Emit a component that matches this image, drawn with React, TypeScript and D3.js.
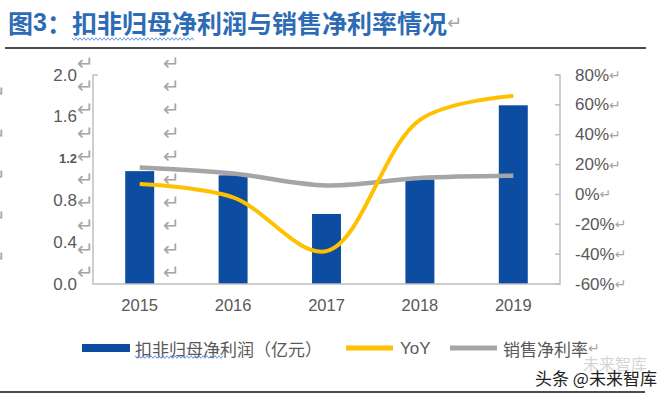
import React from 'react'
import * as d3 from 'd3'

const years = ['2015', '2016', '2017', '2018', '2019']
const profit = [1.08, 1.04, 0.67, 1.0, 1.71] // 扣非归母净利润（亿元）
const yoy = [7, -2, -38, 50, 66] // YoY %
const netMargin = [18, 14, 6, 11, 12.5] // 销售净利率 %
const leftTicks = [0, 0.4, 0.8, 1.2, 1.6, 2.0]
const rightTicks = [-60, -40, -20, 0, 20, 40, 60, 80]

const FONT = '"Liberation Sans", Arial, "Noto Sans CJK SC", sans-serif'
const CJK = '"Noto Sans CJK SC", "Liberation Sans", sans-serif'
const BLUE = '#0D4DA1'
const GOLD = '#FFC000'
const GREY = '#A5A5A5'
const AXIS = '#BFBFBF'
const LABEL = '#595959'
const MARK = '#A6A6A6'

const App = () => {
  const W = 668
  const H = 394
  const left = 93
  const right = 560
  const top = 75
  const bottom = 284

  const x = d3
    .scaleBand()
    .domain(years)
    .range([left, right])
    .paddingInner(0.69)
    .paddingOuter(0.345)
  const yL = d3.scaleLinear().domain([0, 2]).range([bottom, top])
  const yR = d3.scaleLinear().domain([-60, 80]).range([bottom, top])
  const cx = (i: number) => (x(years[i]) as number) + x.bandwidth() / 2

  const line = d3
    .line<number>()
    .x((_, i) => cx(i))
    .y((d) => yR(d))
    .curve(d3.curveCatmullRom.alpha(0.5))

  // spell-check squiggle
  const squiggle = (x0: number, x1: number, y: number) => {
    const pts = d3.range(x0, x1, 2).map((px, i) => [px, y + (i % 2 ? 1.3 : -1.3)] as [number, number])
    return d3.line()(pts) as string
  }

  // paragraph marks from the source document
  const markRows = d3.range(10).map((i) => 63 + i * 23.2)
  const farRows = [93, 135, 176, 217, 258]

  return (
    <svg width={W} height={H} style={{ position: 'absolute', left: 0, top: 0, background: '#fff' }}>
      <rect width={W} height={H} fill="#fff" />

      {/* title */}
      <text x={8} y={22} dominantBaseline="central" fontFamily={CJK} fontWeight="bold" fontSize={25} fill="#2E6BB5">
        图<tspan fontFamily={FONT}>3</tspan>：扣非归母净利润与销售净利率情况
        <tspan fill={MARK} fontWeight="normal" fontSize={18} fontFamily="DejaVu Sans">↵</tspan>
      </text>
      <path d={squiggle(72, 196, 39)} fill="none" stroke="#5B8DE0" strokeWidth={0.9} />
      <line x1={5} x2={646} y1={48} y2={48} stroke="#111" strokeWidth={1.5} />

      {/* paragraph marks */}
      {markRows.map((y, i) => (
        <g key={'m' + i} fontFamily="DejaVu Sans" fontSize={20} fill={MARK}>
          <text x={77} y={y} dominantBaseline="central">↵</text>
          <text x={163} y={y} dominantBaseline="central">↵</text>
        </g>
      ))}
      {farRows.map((y, i) => (
        <text key={'f' + i} x={-11} y={y} dominantBaseline="central" fontFamily="DejaVu Sans" fontSize={20} fill={MARK}>
          ↵
        </text>
      ))}

      {/* bars */}
      {profit.map((v, i) => (
        <rect key={years[i]} x={x(years[i])} y={yL(v)} width={x.bandwidth()} height={bottom - yL(v)} fill={BLUE} />
      ))}

      {/* axes */}
      <path d={`M${left + 5},${top}H${left}V${bottom}H${right}V${top}H${right - 5}`} fill="none" stroke={AXIS} strokeWidth={1.5} />
      {rightTicks.map((t) => (
        <line key={'rt' + t} x1={right - 5} x2={right} y1={yR(t)} y2={yR(t)} stroke={AXIS} strokeWidth={1.5} />
      ))}
      {leftTicks.map((t) => (
        <text
          key={'lt' + t}
          x={77}
          y={yL(t)}
          textAnchor="end"
          dominantBaseline="central"
          fontFamily={FONT}
          fontSize={t === 1.2 ? 13 : 17}
          fontWeight={t === 1.2 ? 'bold' : 'normal'}
          fill={LABEL}
        >
          {d3.format('.1f')(t)}
        </text>
      ))}
      {rightTicks.map((t) => (
        <text key={'rl' + t} x={575} y={yR(t)} dominantBaseline="central" fontFamily={FONT} fontSize={17} fill={LABEL}>
          {t}%
          <tspan fontFamily="DejaVu Sans" fontSize={14} fill={MARK}>↵</tspan>
        </text>
      ))}
      {years.map((yr, i) => (
        <text key={'x' + yr} x={cx(i)} y={305} textAnchor="middle" dominantBaseline="central" fontFamily={FONT} fontSize={16.5} fill={LABEL}>
          {yr}
        </text>
      ))}

      {/* lines */}
      <path d={line(netMargin) as string} fill="none" stroke={GREY} strokeWidth={4.5} />
      <path d={line(yoy) as string} fill="none" stroke={GOLD} strokeWidth={4} />

      {/* legend */}
      <g fontFamily={CJK} fontSize={17} fill={LABEL}>
        <rect x={82} y={344} width={48} height={8} fill={BLUE} />
        <text x={135} y={348} dominantBaseline="central">扣非归母净利润（亿元）</text>
        <path d={squiggle(135, 225, 357)} fill="none" stroke="#5B8DE0" strokeWidth={0.9} />
        <line x1={346} x2={393} y1={348} y2={348} stroke={GOLD} strokeWidth={5} />
        <text x={400} y={348} dominantBaseline="central" fontFamily={FONT}>YoY</text>
        <line x1={450} x2={497} y1={348} y2={348} stroke={GREY} strokeWidth={5} />
        <text x={503} y={348} dominantBaseline="central">
          销售净利率
          <tspan fontFamily="DejaVu Sans" fontSize={14} fill={MARK}>↵</tspan>
        </text>
      </g>

      {/* watermark */}
      <text x={583} y={363} dominantBaseline="central" fontFamily={CJK} fontSize={16} fill="#999" opacity={0.4}>
        未来智库
      </text>
      <text x={535} y={377} dominantBaseline="central" fontFamily={CJK} fontSize={17} fill="#222">
        头条 @未来智库
      </text>
      <line x1={0} x2={645} y1={392} y2={392} stroke="#111" strokeWidth={1.5} />
    </svg>
  )
}

export default App
